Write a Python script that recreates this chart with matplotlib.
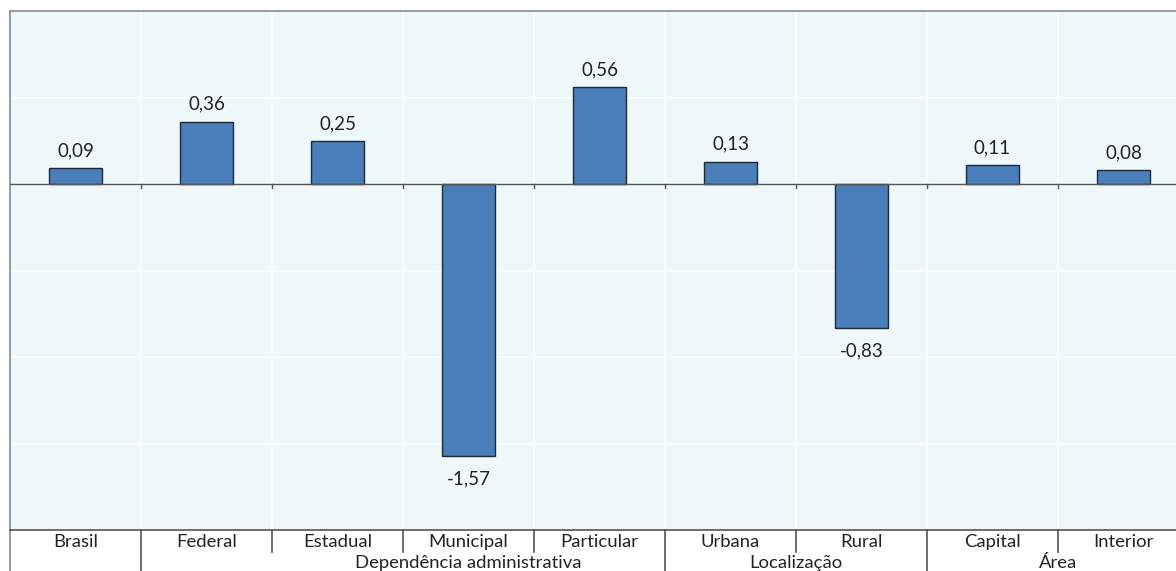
import matplotlib
matplotlib.use("Agg")
import matplotlib.pyplot as plt
import matplotlib.transforms as mtransforms

categories = ["Brasil", "Federal", "Estadual", "Municipal", "Particular",
              "Urbana", "Rural", "Capital", "Interior"]
values = [0.09, 0.36, 0.25, -1.57, 0.56, 0.13, -0.83, 0.11, 0.08]
value_labels = ["0,09", "0,36", "0,25", "-1,57", "0,56", "0,13", "-0,83", "0,11", "0,08"]
groups = ["Dependência administrativa", "Localização", "Área"]
group_pos = [3.0, 5.5, 7.5]
long_seps = [0.5, 4.5, 6.5]
short_seps = [1.5, 2.5, 3.5, 5.5, 7.5]

plt.rcParams['font.family'] = ['Lato', 'DejaVu Sans']

W, H = 1176, 571
fig = plt.figure(figsize=(W / 100, H / 100), dpi=100)
left_px, top_px, bottom_px = 10, 11, 530
right_px = left_px + 9 * 131
ax = fig.add_axes([left_px / W, (H - bottom_px) / H,
                   (right_px - left_px) / W, (bottom_px - top_px) / H])
ax.set_facecolor("#EEF7F9")

x = list(range(len(categories)))
ax.set_xlim(-0.5, len(categories) - 0.5)
ax.set_ylim(-2, 1)

# gridlines
for yv in [-1.5, -1.0, -0.5, 0.5]:
    ax.axhline(yv, color="white", lw=1.2, zorder=0)
for xv in [i + 0.5 for i in range(len(categories) - 1)]:
    ax.axvline(xv, color="white", lw=1.2, zorder=0)

ax.bar(x, values, width=0.4, color="#4A7EBB", edgecolor="#1F2A36", lw=1.0, zorder=3)
ax.axhline(0, color="#555555", lw=1.0, zorder=4)

# small ticks on zero line
for xv in [i + 0.5 for i in range(len(categories) - 1)]:
    ax.plot([xv, xv], [0, -0.025], color="#555555", lw=1.0, zorder=4)

for xi, v, lab in zip(x, values, value_labels):
    if v >= 0:
        ax.annotate(lab, (xi, v), xytext=(0, 12.5), textcoords="offset points",
                    ha="center", va="center", fontsize=13.5, color="#222222")
    else:
        ax.annotate(lab, (xi, v), xytext=(0, -17), textcoords="offset points",
                    ha="center", va="center", fontsize=13.5, color="#222222")

ax.set_xticks([])
ax.set_yticks([])
for s in ["left", "top"]:
    ax.spines[s].set_color("#8A8A8A")
    ax.spines[s].set_linewidth(1.2)
ax.spines["right"].set_visible(False)
ax.spines["bottom"].set_color("#555555")
ax.spines["bottom"].set_linewidth(1.2)

ah = bottom_px - top_px
trans = mtransforms.blended_transform_factory(ax.transData, ax.transAxes)
for xv in short_seps:
    ax.plot([xv, xv], [0, -22 / ah], color="#555555", lw=1.2, transform=trans, clip_on=False)
for xv in long_seps:
    ax.plot([xv, xv], [0, -45 / ah], color="#555555", lw=1.2, transform=trans, clip_on=False)
ax.plot([-0.5, -0.5], [0, -45 / ah], color="#8A8A8A", lw=1.2, transform=trans, clip_on=False)

for xi, c in zip(x, categories):
    ax.text(xi, -12 / ah, c, transform=trans, ha="center", va="center",
            fontsize=13.3, color="#222222")
for gp, g in zip(group_pos, groups):
    ax.text(gp, -33 / ah, g, transform=trans, ha="center", va="center",
            fontsize=13.3, color="#222222")

fig.savefig("out.png", dpi=100)
